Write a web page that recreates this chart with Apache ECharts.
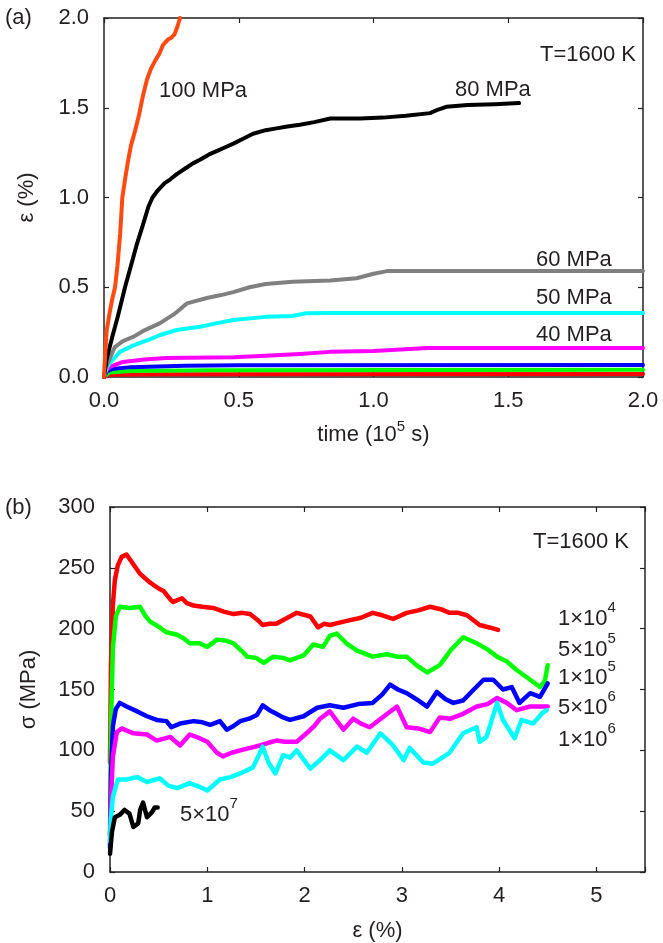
<!DOCTYPE html>
<html>
<head>
<meta charset="utf-8">
<script src="https://cdn.jsdelivr.net/npm/echarts@6/dist/echarts.min.js"></script>
<style>
  html, body { margin: 0; padding: 0; background: #ffffff; }
  #chart { width: 663px; height: 943px; }
</style>
</head>
<body>
<div id="chart"></div>
<script>
// ---- Panel (a): creep strain vs time at T = 1600 K ----
const time100 = [0, 0.004, 0.01, 0.02, 0.03, 0.041, 0.05, 0.06, 0.068, 0.08, 0.09, 0.1, 0.115, 0.13, 0.145, 0.16, 0.175, 0.189, 0.205, 0.219, 0.237, 0.25, 0.262, 0.272, 0.282];
const strain100 = [0, 0.12, 0.26, 0.35, 0.43, 0.5, 0.62, 0.8, 1.0, 1.12, 1.21, 1.29, 1.37, 1.46, 1.57, 1.66, 1.72, 1.76, 1.8, 1.85, 1.88, 1.89, 1.91, 1.95, 2.0];

const time80 = [0, 0.01, 0.03, 0.05, 0.078, 0.1, 0.12, 0.145, 0.165, 0.18, 0.2, 0.225, 0.245, 0.27, 0.3, 0.33, 0.356, 0.39, 0.42, 0.45, 0.48, 0.52, 0.553, 0.6, 0.64, 0.68, 0.727, 0.78, 0.84, 0.95, 1.035, 1.12, 1.21, 1.24, 1.27, 1.35, 1.45, 1.54];
const strain80 = [0, 0.1, 0.22, 0.33, 0.5, 0.62, 0.73, 0.85, 0.95, 1.0, 1.04, 1.08, 1.1, 1.13, 1.16, 1.19, 1.21, 1.24, 1.26, 1.28, 1.3, 1.33, 1.355, 1.375, 1.385, 1.395, 1.405, 1.42, 1.44, 1.44, 1.445, 1.455, 1.47, 1.49, 1.505, 1.515, 1.52, 1.526];

const time60 = [0, 0.005, 0.015, 0.04, 0.07, 0.108, 0.15, 0.208, 0.26, 0.308, 0.382, 0.43, 0.48, 0.54, 0.6, 0.7, 0.839, 0.937, 1.0, 1.05, 1.5, 2.0];
const strain60 = [0, 0.05, 0.08, 0.167, 0.2, 0.223, 0.26, 0.3, 0.35, 0.41, 0.44, 0.455, 0.473, 0.5, 0.518, 0.53, 0.537, 0.55, 0.575, 0.59, 0.59, 0.59];

const time50 = [0, 0.01, 0.022, 0.059, 0.1, 0.134, 0.17, 0.208, 0.27, 0.356, 0.42, 0.48, 0.6, 0.7, 0.75, 0.839, 2.0];
const strain50 = [0, 0.05, 0.078, 0.14, 0.17, 0.19, 0.21, 0.234, 0.262, 0.28, 0.3, 0.318, 0.335, 0.34, 0.355, 0.356, 0.356];

const time40 = [0, 0.008, 0.022, 0.07, 0.15, 0.23, 0.48, 0.6, 0.727, 0.839, 1.0, 1.2, 2.0];
const strain40 = [0, 0.035, 0.056, 0.084, 0.098, 0.106, 0.11, 0.118, 0.128, 0.14, 0.145, 0.162, 0.162];

const timeBlue = [0, 0.01, 0.03, 0.1, 0.3, 0.5, 2.0];
const strainBlue = [0, 0.03, 0.045, 0.055, 0.062, 0.066, 0.067];

const timeGreen = [0, 0.02, 0.1, 0.4, 2.0];
const strainGreen = [0, 0.025, 0.033, 0.038, 0.04];

const timeRed = [0, 0.02, 0.2, 2.0];
const strainRed = [0, 0.012, 0.016, 0.017];

const ticksTime = [0, 0.5, 1.0, 1.5, 2.0];
const ticksStrainA = [0, 0.5, 1.0, 1.5, 2.0];

// ---- Panel (b): stress vs strain at T = 1600 K for several strain rates ----
const strainR4 = [0, 0.01, 0.03, 0.05, 0.08, 0.12, 0.17, 0.24, 0.31, 0.41, 0.5, 0.55, 0.62, 0.65, 0.74, 0.79, 0.86, 0.95, 1.06, 1.17, 1.27, 1.36, 1.44, 1.52, 1.57, 1.64, 1.71, 1.8, 1.92, 2.06, 2.14, 2.2, 2.26, 2.36, 2.47, 2.58, 2.7, 2.8, 2.91, 3.05, 3.17, 3.29, 3.4, 3.49, 3.58, 3.67, 3.8, 3.9, 3.99];
const stressR4 = [90, 170, 220, 240, 252, 259, 261, 253, 245, 238, 233, 231, 224, 222, 225, 221, 219, 218, 217, 214, 212, 213, 212, 207, 203, 204, 204, 208, 213, 210, 201, 204, 203, 205, 207, 209, 213, 211, 208, 213, 215, 218, 216, 213, 213, 211, 203, 201, 199];

const strainG5 = [0, 0.01, 0.03, 0.06, 0.1, 0.2, 0.31, 0.36, 0.41, 0.51, 0.58, 0.69, 0.76, 0.82, 0.92, 1.0, 1.1, 1.2, 1.27, 1.35, 1.41, 1.5, 1.58, 1.68, 1.78, 1.85, 1.99, 2.09, 2.19, 2.26, 2.33, 2.43, 2.54, 2.7, 2.85, 2.95, 3.05, 3.15, 3.26, 3.39, 3.5, 3.63, 3.77, 3.88, 3.98, 4.08, 4.18, 4.32, 4.42, 4.47, 4.5];
const stressG5 = [30, 120, 185, 210, 218, 217, 218, 211, 206, 201, 197, 195, 192, 188, 188, 185, 191, 190, 188, 182, 177, 176, 172, 177, 176, 174, 178, 187, 185, 194, 196, 188, 182, 177, 179, 177, 177, 170, 164, 170, 182, 193, 188, 183, 177, 173, 166, 158, 152, 157, 170];

const strainB5 = [0, 0.01, 0.03, 0.06, 0.1, 0.17, 0.28, 0.38, 0.48, 0.58, 0.63, 0.72, 0.86, 0.95, 1.03, 1.13, 1.2, 1.27, 1.34, 1.43, 1.51, 1.57, 1.64, 1.71, 1.78, 1.85, 1.99, 2.13, 2.26, 2.4, 2.55, 2.7, 2.8, 2.88, 2.96, 3.05, 3.15, 3.26, 3.36, 3.45, 3.53, 3.63, 3.74, 3.84, 3.94, 4.04, 4.13, 4.21, 4.32, 4.42, 4.5];
const stressB5 = [20, 80, 120, 134, 139, 136, 132, 128, 125, 124, 119, 122, 124, 123, 121, 124, 117, 120, 124, 126, 129, 137, 133, 130, 127, 125, 128, 135, 137, 135, 138, 139, 146, 154, 150, 147, 142, 136, 148, 142, 139, 141, 150, 158, 158, 150, 152, 139, 147, 144, 155];

const strainM6 = [0, 0.01, 0.03, 0.07, 0.12, 0.24, 0.38, 0.48, 0.62, 0.72, 0.82, 0.92, 1.0, 1.1, 1.16, 1.25, 1.34, 1.44, 1.54, 1.62, 1.71, 1.8, 1.92, 2.02, 2.1, 2.16, 2.26, 2.4, 2.5, 2.58, 2.67, 2.8, 2.95, 3.05, 3.17, 3.29, 3.39, 3.5, 3.63, 3.77, 3.88, 3.98, 4.08, 4.18, 4.32, 4.42, 4.5];
const stressM6 = [30, 60, 95, 115, 118, 114, 113, 108, 111, 104, 113, 110, 107, 98, 95, 98, 100, 102, 104, 106, 108, 107, 107, 114, 120, 126, 132, 117, 126, 122, 119, 127, 136, 119, 118, 115, 127, 126, 130, 136, 138, 143, 139, 133, 136, 136, 136];

const strainC6 = [0, 0.01, 0.03, 0.08, 0.17, 0.28, 0.38, 0.51, 0.6, 0.69, 0.82, 0.92, 1.0, 1.13, 1.24, 1.34, 1.47, 1.57, 1.63, 1.7, 1.78, 1.85, 1.92, 2.06, 2.16, 2.26, 2.4, 2.54, 2.64, 2.78, 2.9, 3.02, 3.08, 3.22, 3.32, 3.49, 3.63, 3.77, 3.8, 3.87, 3.98, 4.04, 4.16, 4.23, 4.35, 4.45, 4.49];
const stressC6 = [25, 45, 62, 76, 76, 78, 74, 77, 71, 69, 73, 70, 67, 76, 78, 81, 86, 103, 90, 81, 96, 94, 100, 85, 92, 100, 92, 103, 98, 114, 105, 92, 102, 90, 89, 98, 114, 119, 107, 111, 139, 125, 110, 125, 122, 131, 133];

const strainK7 = [0, 0.02, 0.05, 0.1, 0.15, 0.2, 0.24, 0.29, 0.31, 0.34, 0.38, 0.43, 0.46, 0.49];
const stressK7 = [15, 33, 45, 47, 51, 48, 37, 40, 51, 57, 45, 49, 53, 53];

const ticksStrainB = [0, 1, 2, 3, 4, 5];
const ticksStress = [0, 50, 100, 150, 200, 250, 300];

// ---- shared styling ----
const FONT = "'Liberation Sans', Arial, Helvetica, sans-serif";
const INK = '#231f20';
const AXIS = '#222222';

function pairs(xs, ys) { return xs.map((x, i) => [x, ys[i]]); }

function curve(name, xs, ys, color, panel, width) {
  return {
    name: name,
    type: 'line',
    xAxisIndex: panel === 'a' ? 0 : 2,
    yAxisIndex: panel === 'a' ? 0 : 2,
    data: pairs(xs, ys),
    showSymbol: false,
    symbol: 'none',
    silent: true,
    lineStyle: { color: color, width: width, join: 'round', cap: 'round' },
    animation: false
  };
}

function valueAxis(opts) {
  const base = {
    type: 'value',
    splitLine: { show: false },
    axisLine: { show: true, onZero: false, lineStyle: { color: AXIS, width: 1.5 } },
    axisTick: { show: true, inside: true, length: 5, lineStyle: { color: AXIS, width: 1.2 } },
    axisLabel: { show: true, color: INK, fontFamily: FONT, fontSize: 22 }
  };
  return Object.assign(base, opts);
}

const supRich = {
  sup: { fontSize: 15, fontFamily: FONT, color: INK, padding: [0, 0, 23, 0] }
};
const supRichAxis = {
  sup: { fontSize: 15, fontFamily: FONT, color: INK, padding: [0, 0, 16, 0] }
};

function label(text, x, y, align) {
  return {
    type: 'text',
    x: x, y: y,
    silent: true,
    style: {
      text: text,
      fontFamily: FONT,
      fontSize: 22,
      fill: INK,
      align: align || 'left',
      verticalAlign: 'middle',
      rich: supRich
    }
  };
}

const chart = echarts.init(document.getElementById('chart'), null, { renderer: 'canvas' });

chart.setOption({
  backgroundColor: '#ffffff',
  animation: false,
  grid: [
    { left: 104, top: 18, width: 539, height: 359, containLabel: false },
    { left: 110, top: 507, width: 535, height: 365, containLabel: false }
  ],
  xAxis: [
    valueAxis({
      gridIndex: 0, position: 'bottom', min: ticksTime[0], max: ticksTime[ticksTime.length - 1], interval: 0.5,
      axisLabel: { color: INK, fontFamily: FONT, fontSize: 22, margin: 13, formatter: v => v.toFixed(1) },
      name: 'time (10{sup|5} s)', nameLocation: 'middle', nameGap: 42,
      nameTextStyle: { color: INK, fontFamily: FONT, fontSize: 22, rich: supRichAxis }
    }),
    valueAxis({
      gridIndex: 0, position: 'top', min: ticksTime[0], max: ticksTime[ticksTime.length - 1], interval: 0.5,
      axisLabel: { show: false }
    }),
    valueAxis({
      gridIndex: 1, position: 'bottom', min: ticksStrainB[0], max: 5.5, interval: 1,
      axisLabel: { color: INK, fontFamily: FONT, fontSize: 22, margin: 13,
        formatter: v => (ticksStrainB.indexOf(v) >= 0 ? String(v) : '') },
      name: 'ε (%)', nameLocation: 'middle', nameGap: 48,
      nameTextStyle: { color: INK, fontFamily: FONT, fontSize: 22 }
    }),
    valueAxis({
      gridIndex: 1, position: 'top', min: ticksStrainB[0], max: 5.5, interval: 1,
      axisLabel: { show: false }
    })
  ],
  yAxis: [
    valueAxis({
      gridIndex: 0, position: 'left', min: ticksStrainA[0], max: ticksStrainA[ticksStrainA.length - 1], interval: 0.5,
      axisLabel: { color: INK, fontFamily: FONT, fontSize: 22, margin: 15, formatter: v => v.toFixed(1) },
      name: 'ε (%)', nameLocation: 'middle', nameGap: 66,
      nameTextStyle: { color: INK, fontFamily: FONT, fontSize: 22 }
    }),
    valueAxis({
      gridIndex: 0, position: 'right', min: ticksStrainA[0], max: ticksStrainA[ticksStrainA.length - 1], interval: 0.5,
      axisLabel: { show: false }
    }),
    valueAxis({
      gridIndex: 1, position: 'left', min: ticksStress[0], max: ticksStress[ticksStress.length - 1], interval: 50,
      axisLabel: { color: INK, fontFamily: FONT, fontSize: 22, margin: 15 },
      name: 'σ (MPa)', nameLocation: 'middle', nameGap: 70,
      nameTextStyle: { color: INK, fontFamily: FONT, fontSize: 22 }
    }),
    valueAxis({
      gridIndex: 1, position: 'right', min: ticksStress[0], max: ticksStress[ticksStress.length - 1], interval: 50,
      axisLabel: { show: false }
    })
  ],
  series: [
    curve('red', timeRed, strainRed, '#ff0000', 'a', 4),
    curve('green', timeGreen, strainGreen, '#00ff00', 'a', 4),
    curve('blue', timeBlue, strainBlue, '#0000ff', 'a', 4),
    curve('40 MPa', time40, strain40, '#ff00ff', 'a', 4),
    curve('50 MPa', time50, strain50, '#00ffff', 'a', 4),
    curve('60 MPa', time60, strain60, '#808080', 'a', 4),
    curve('80 MPa', time80, strain80, '#000000', 'a', 4),
    curve('100 MPa', time100, strain100, '#ff4a12', 'a', 4),

    curve('1×10^4', strainR4, stressR4, '#ff0000', 'b', 4.5),
    curve('5×10^5', strainG5, stressG5, '#00ff00', 'b', 4.5),
    curve('1×10^5', strainB5, stressB5, '#0000ff', 'b', 4.5),
    curve('5×10^6', strainM6, stressM6, '#ff00ff', 'b', 4.5),
    curve('1×10^6', strainC6, stressC6, '#00ffff', 'b', 4.5),
    curve('5×10^7', strainK7, stressK7, '#000000', 'b', 4.5)
  ],
  graphic: [
    label('(a)', 5, 18),
    label('(b)', 5, 508),
    label('T=1600 K', 636, 55, 'right'),
    label('100 MPa', 159, 91),
    label('80 MPa', 455, 90),
    label('60 MPa', 536, 260),
    label('50 MPa', 536, 298),
    label('40 MPa', 536, 335),
    label('T=1600 K', 629, 542, 'right'),
    label('1×10{sup|4}', 558, 619),
    label('5×10{sup|5}', 558, 650),
    label('1×10{sup|5}', 558, 678),
    label('5×10{sup|6}', 558, 708),
    label('1×10{sup|6}', 558, 740),
    label('5×10{sup|7}', 180, 815)
  ]
});
</script>
</body>
</html>
